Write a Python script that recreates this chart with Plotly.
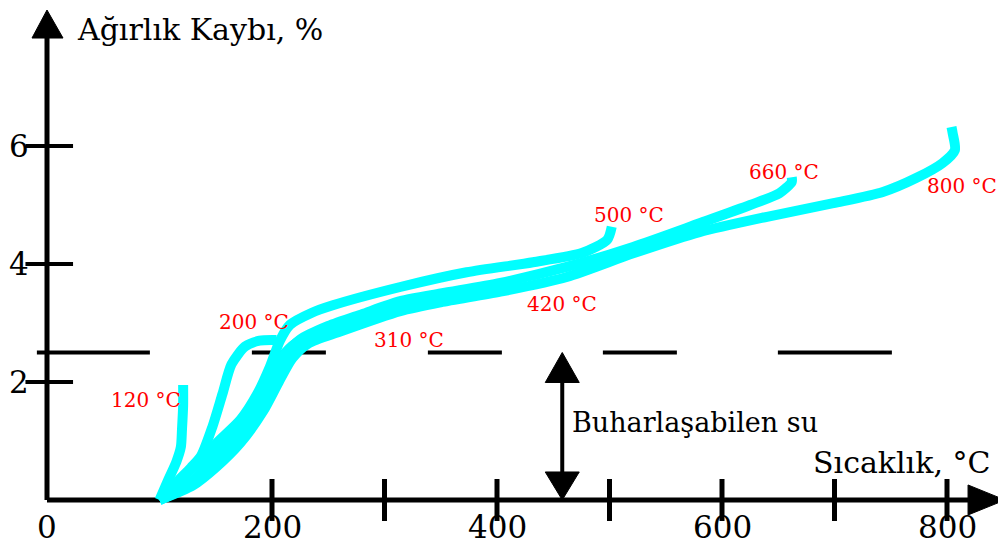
import plotly.graph_objects as go

# ---------------- data ----------------
c120_x = [100, 108, 115, 119, 120, 121, 121]
c120_y = [0, 0.35, 0.65, 0.9, 1.2, 1.6, 1.95]

c200_x = [100, 115, 128, 137, 147, 156, 164, 176, 189, 204]
c200_y = [0, 0.3, 0.55, 0.75, 1.24, 1.8, 2.3, 2.6, 2.7, 2.71]

c310_x = [100, 128, 148, 168, 186, 200, 212, 226, 255, 285, 310]
c310_y = [0, 0.3, 0.7, 1.1, 1.6, 2.1, 2.5, 2.72, 2.93, 3.1, 3.22]

c420_x = [100, 132, 152, 172, 190, 204, 215, 229, 258, 314, 360, 420]
c420_y = [0, 0.3, 0.7, 1.1, 1.6, 2.1, 2.45, 2.68, 2.9, 3.28, 3.45, 3.62]

c500_x = [100, 127, 151, 172, 187, 198, 207, 216, 235, 254, 314, 373, 432, 476, 498, 502]
c500_y = [0, 0.5, 0.97, 1.36, 1.8, 2.25, 2.7, 2.97, 3.17, 3.3, 3.61, 3.86, 4.03, 4.19, 4.41, 4.63]

c660_x = [100, 125, 145, 166, 185, 200, 212, 225, 250, 280, 314, 350, 403, 462, 521, 580, 625, 651, 662, 662]
c660_y = [0, 0.25, 0.55, 0.97, 1.5, 2.0, 2.45, 2.72, 2.95, 3.15, 3.37, 3.5, 3.68, 3.95, 4.29, 4.69, 5.0, 5.2, 5.39, 5.47]

c800_x = [100, 130, 150, 172, 192, 206, 218, 232, 260, 314, 350, 403, 462, 521, 580, 640, 699, 743, 773, 796, 807, 805, 804]
c800_y = [0, 0.25, 0.55, 0.97, 1.5, 2.0, 2.4, 2.65, 2.85, 3.2, 3.35, 3.53, 3.78, 4.18, 4.54, 4.80, 5.03, 5.22, 5.46, 5.71, 5.93, 6.22, 6.32]

curve_labels = ["120 °C", "200 °C", "310 °C", "420 °C", "500 °C", "660 °C", "800 °C"]
label_x = [88, 184, 322, 458, 517, 655, 813]
label_y = [1.69, 3.02, 2.71, 3.32, 4.83, 5.56, 5.32]

x_ticks = [200, 300, 400, 500, 600, 700, 800]
x_label_values = [0, 200, 400, 600, 800]
y_ticks = [2, 4, 6]

water_level = 2.5
water_arrow_x = 458

y_title = "Ağırlık Kaybı, %"
x_title = "Sıcaklık, °C"
water_text = "Buharlaşabilen su"

# ---------------- figure ----------------
CYAN = "#00FFFF"
FONT = "DejaVu Serif"

fig = go.Figure()

curves = [(c120_x, c120_y), (c200_x, c200_y), (c310_x, c310_y), (c420_x, c420_y),
          (c500_x, c500_y), (c660_x, c660_y), (c800_x, c800_y)]
for (xs, ys), name in zip(curves, curve_labels):
    fig.add_trace(go.Scatter(x=xs, y=ys, mode="lines", name=name,
                             line=dict(color=CYAN, width=10, shape="spline", smoothing=0.7),
                             hoverinfo="skip", showlegend=False))

# tick marks
fig.add_trace(go.Scatter(x=x_ticks, y=[0] * len(x_ticks), mode="markers",
                         marker=dict(symbol="line-ns", size=30, line=dict(color="black", width=5)),
                         cliponaxis=False, showlegend=False, hoverinfo="skip"))
fig.add_trace(go.Scatter(x=[2] * len(y_ticks), y=y_ticks, mode="markers",
                         marker=dict(symbol="line-ew", size=34, line=dict(color="black", width=4)),
                         cliponaxis=False, showlegend=False, hoverinfo="skip"))

shapes = []
# axes lines
shapes.append(dict(type="line", x0=0, y0=0, x1=819, y1=0, xref="x", yref="y",
                   line=dict(color="black", width=5), layer="below"))
shapes.append(dict(type="line", x0=0, y0=0, x1=0, y1=7.85, xref="x", yref="y",
                   line=dict(color="black", width=5), layer="below"))
# arrow heads on axes
shapes.append(dict(type="path", xref="x", yref="y", xsizemode="pixel", ysizemode="pixel",
                   xanchor=0, yanchor=7.83, path="M-15,0 L16,0 L0,28 Z",
                   fillcolor="black", line=dict(color="black", width=1)))
shapes.append(dict(type="path", xref="x", yref="y", xsizemode="pixel", ysizemode="pixel",
                   xanchor=818.7, yanchor=0, path="M0,15 L37,0 L0,-15 Z",
                   fillcolor="black", line=dict(color="black", width=1)))
# dashed water level
shapes.append(dict(type="line", x0=-9, y0=water_level, x1=751, y1=water_level, xref="x", yref="y",
                   line=dict(color="black", width=4,
                             dash="113px,102px,74px,102px,74px,101px,74px,101px,114px"),
                   layer="below"))
# double arrow
shapes.append(dict(type="line", x0=water_arrow_x, y0=0.3, x1=water_arrow_x, y1=2.2, xref="x", yref="y",
                   line=dict(color="black", width=4)))
shapes.append(dict(type="path", xref="x", yref="y", xsizemode="pixel", ysizemode="pixel",
                   xanchor=water_arrow_x, yanchor=water_level, path="M0,0 L-17,-30 L17,-30 Z",
                   fillcolor="black", line=dict(color="black", width=1)))
shapes.append(dict(type="path", xref="x", yref="y", xsizemode="pixel", ysizemode="pixel",
                   xanchor=water_arrow_x, yanchor=0, path="M0,0 L-17,28 L17,28 Z",
                   fillcolor="black", line=dict(color="black", width=1)))

annotations = []
for v in x_label_values:
    annotations.append(dict(x=v, y=-0.46, xref="x", yref="y", text=str(v), showarrow=False,
                            font=dict(family=FONT, size=31, color="black"),
                            xanchor="center", yanchor="middle"))
for v in y_ticks:
    annotations.append(dict(x=-25, y=v, xref="x", yref="y", text=str(v), showarrow=False,
                            font=dict(family=FONT, size=31, color="black"),
                            xanchor="center", yanchor="middle"))
for t, lx, ly in zip(curve_labels, label_x, label_y):
    annotations.append(dict(x=lx, y=ly, xref="x", yref="y", text=t, showarrow=False,
                            font=dict(family=FONT, size=20, color="#FF0000"),
                            xanchor="center", yanchor="middle"))
annotations.append(dict(x=25, y=7.97, xref="x", yref="y", text=y_title, showarrow=False,
                        font=dict(family=FONT, size=30, color="black"),
                        xanchor="left", yanchor="middle"))
annotations.append(dict(x=840, y=0.64, xref="x", yref="y", text=x_title, showarrow=False,
                        font=dict(family=FONT, size=30, color="black"),
                        xanchor="right", yanchor="middle"))
annotations.append(dict(x=465, y=1.32, xref="x", yref="y", text=water_text, showarrow=False,
                        font=dict(family=FONT, size=27, color="black"),
                        xanchor="left", yanchor="middle"))

# page body has an 8px margin, so the figure is 8px smaller and shifted accordingly
fig.update_layout(
    width=998, height=539,
    margin=dict(l=0, r=0, t=0, b=0),
    paper_bgcolor="white", plot_bgcolor="white",
    xaxis=dict(range=[-34.67, 852.44], visible=False, fixedrange=True),
    yaxis=dict(range=[-0.797, 8.339], visible=False, fixedrange=True),
    shapes=shapes, annotations=annotations, showlegend=False,
)

fig.write_html("out.html")
